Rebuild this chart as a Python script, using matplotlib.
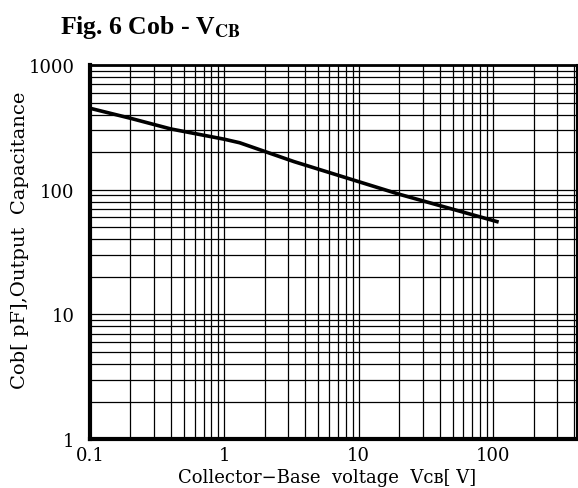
import matplotlib
matplotlib.use("Agg")
import matplotlib.pyplot as plt
from matplotlib.ticker import LogLocator, NullFormatter, FixedLocator, FixedFormatter

# Data
vcb = [0.1, 0.2, 0.4, 1.0, 1.3, 3.3, 20.0, 110.0]
cob = [450, 374, 307, 254, 238, 168, 92, 55]

xticks = [0.1, 1, 10, 100]
xticklabels = ["0.1", "1", "10", "100"]
yticks = [1, 10, 100, 1000]
yticklabels = ["1", "10", "100", "1000"]

plt.rcParams["mathtext.fontset"] = "stix"

fig = plt.figure(figsize=(5.78, 4.89), dpi=100)
ax = fig.add_axes([0.1557, 0.100, 0.8423, 0.765])

ax.set_xscale("log")
ax.set_yscale("log")
ax.set_xlim(0.1, 420)
ax.set_ylim(1, 1000)

ax.plot(vcb, cob, color="black", lw=2.6, solid_capstyle="butt")

ax.xaxis.set_major_locator(FixedLocator(xticks))
ax.xaxis.set_major_formatter(FixedFormatter(xticklabels))
ax.yaxis.set_major_locator(FixedLocator(yticks))
ax.yaxis.set_major_formatter(FixedFormatter(yticklabels))
ax.xaxis.set_minor_locator(LogLocator(base=10, subs=range(2, 10), numticks=20))
ax.yaxis.set_minor_locator(LogLocator(base=10, subs=range(2, 10), numticks=20))
ax.xaxis.set_minor_formatter(NullFormatter())
ax.yaxis.set_minor_formatter(NullFormatter())

ax.grid(True, which="both", color="black", lw=0.9)
ax.tick_params(which="both", length=0)
ax.tick_params(axis="y", labelsize=13, pad=11)
ax.tick_params(axis="x", labelsize=13, pad=5)
for lab in ax.get_xticklabels() + ax.get_yticklabels():
    lab.set_fontfamily("DejaVu Serif")

for side, w in [("left", 3), ("bottom", 3), ("top", 2), ("right", 1.5)]:
    ax.spines[side].set_linewidth(w)
    ax.spines[side].set_color("black")

ax.set_xlabel("Collector\u2212Base  voltage  V\u1d04\u0299[ V]",
              family=["DejaVu Serif", "DejaVu Sans"], fontsize=13)
ax.set_ylabel("Cob[ pF],Output  Capacitance", family=["DejaVu Serif", "DejaVu Sans"],
              fontsize=14)
ax.xaxis.set_label_coords(0.486, -0.076)
ax.yaxis.set_label_coords(-0.125, 0.535)

fig.text(0.104, 0.943, r"Fig. 6 Cob - V$_{\mathbf{CB}}$", family="Liberation Serif",
         fontweight="bold", fontsize=18.5, ha="left", va="center")

fig.savefig("out.png", dpi=100)
